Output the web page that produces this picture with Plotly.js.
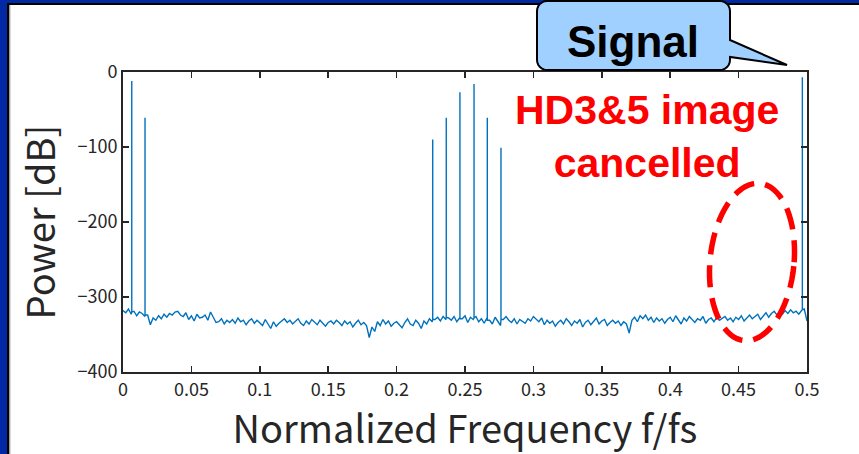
<!DOCTYPE html>
<html>
<head>
<meta charset="utf-8">
<script src="https://cdn.plot.ly/plotly-3.0.1.min.js"></script>
<style>
html,body{margin:0;padding:0;background:#fff;}
#chart{width:859px;height:454px;}
</style>
</head>
<body>
<div id="chart"></div>
<script>
// ---- data ----
// noise floor, sampled every 0.002 of normalized frequency from 0 to 0.5
const noiseStep = 0.002;
const noisePower = [
 -318,-321,-316,-323,-319,-325,-320,-322,-326,-324,
 -337,-328,-331,-325,-329,-323,-327,-322,-324,-320,
 -319,-324,-326,-321,-330,-325,-332,-323,-328,-327,
 -324,-331,-320,-327,-334,-333,-329,-336,-331,-334,
 -330,-335,-328,-333,-331,-337,-332,-329,-335,-331,
 -334,-338,-330,-336,-342,-333,-339,-335,-332,-329,
 -334,-331,-336,-333,-329,-335,-338,-332,-336,-330,
 -333,-337,-331,-335,-339,-334,-332,-336,-331,-334,
 -338,-332,-336,-333,-340,-335,-331,-337,-334,-338,
 -354,-340,-346,-333,-338,-330,-336,-332,-339,-335,
 -333,-337,-341,-334,-329,-336,-338,-331,-335,-342,
 -332,-336,-329,-333,-330,-327,-332,-326,-330,-328,
 -331,-326,-333,-328,-329,-325,-334,-327,-330,-326,
 -333,-329,-335,-328,-331,-336,-327,-332,-338,-330,
 -326,-331,-334,-329,-336,-330,-333,-335,-329,-332,
 -326,-330,-333,-328,-337,-331,-335,-332,-339,-334,
 -331,-336,-329,-333,-338,-332,-335,-330,-340,-334,
 -331,-337,-333,-328,-336,-332,-330,-338,-334,-331,
 -335,-332,-338,-333,-336,-348,-331,-327,-333,-325,
 -329,-324,-331,-327,-334,-328,-332,-329,-335,-330,
 -327,-333,-325,-331,-336,-328,-332,-326,-330,-334,
 -329,-331,-326,-335,-330,-328,-333,-327,-331,-329,
 -326,-331,-328,-333,-327,-330,-325,-332,-328,-324,
 -329,-326,-323,-330,-325,-321,-327,-322,-319,-324,
 -320,-323,-318,-322,-317,-321,-319,-323,-318,-316,
 -332
];
// spectral lines
const spikeFreq  = [0.0064, 0.0161, 0.2264, 0.2363, 0.2463, 0.2566, 0.2663, 0.2763, 0.4966];
const spikePower = [-12, -61, -90, -61, -27, -16, -61, -101, -7];
const spikeBase  = [-320, -324, -330, -327, -329, -328, -331, -330, -317];

const xTickVals  = [0, 0.05, 0.1, 0.15, 0.2, 0.25, 0.3, 0.35, 0.4, 0.45, 0.5];
const xTickText  = ['0','0.05','0.1','0.15','0.2','0.25','0.3','0.35','0.4','0.45','0.5'];
const yTickVals  = [0, -100, -200, -300, -400];

// ---- merge noise samples with spectral lines ----
const fx = [], fy = [];
let s = 0;
for (let i = 0; i < noisePower.length; i++) {
  const f = i * noiseStep;
  while (s < spikeFreq.length && spikeFreq[s] < f) {
    fx.push(spikeFreq[s], spikeFreq[s], spikeFreq[s]);
    fy.push(spikeBase[s], spikePower[s], spikeBase[s]);
    s++;
  }
  fx.push(f); fy.push(noisePower[i]);
}

// ---- layout helpers (pixel -> paper) ----
const W = 859, H = 454;
const M = {l: 123, r: 52, t: 72, b: 82};
const PW = W - M.l - M.r, PH = H - M.t - M.b;
const px = x => (x - M.l) / PW;
const py = y => (H - M.b - y) / PH;
function pathFrom(pts) {
  return pts.map((p, i) => (i ? 'L' : 'M') + px(p[0]).toFixed(5) + ',' + py(p[1]).toFixed(5)).join(' ') + ' Z';
}
function rectPx(x0, y0, x1, y1, color) {
  return {type: 'rect', xref: 'paper', yref: 'paper', x0: px(x0), x1: px(x1), y0: py(y1), y1: py(y0),
          fillcolor: color, line: {width: 0}, layer: 'above'};
}
// callout bubble
function bubble() {
  const L = 537, R = 730, T = 1, B = 70, r = 10;
  const pts = [];
  const arc = (cx, cy, a0, a1) => { for (let k = 0; k <= 6; k++) { const a = a0 + (a1 - a0) * k / 6; pts.push([cx + r * Math.cos(a), cy + r * Math.sin(a)]); } };
  arc(L + r, T + r, Math.PI, 1.5 * Math.PI);
  arc(R - r, T + r, 1.5 * Math.PI, 2 * Math.PI);
  pts.push([R, 40], [787, 65], [R, 57]);
  arc(R - r, B - r, 0, 0.5 * Math.PI);
  arc(L + r, B - r, 0.5 * Math.PI, Math.PI);
  return pathFrom(pts);
}
// tilted ellipse
function ellipse(cx, cy, rx, ry, phi) {
  const pts = [];
  for (let k = 0; k < 72; k++) {
    const t = 2 * Math.PI * k / 72;
    const u = rx * Math.cos(t), v = ry * Math.sin(t);
    pts.push([cx + u * Math.cos(phi) - v * Math.sin(phi), cy + u * Math.sin(phi) + v * Math.cos(phi)]);
  }
  return pathFrom(pts);
}

const axisColor = '#262626';
const tickFont = {family: 'Noto Sans CJK JP, DejaVu Sans, sans-serif', size: 18, color: axisColor};
const titleFont = {family: 'Noto Sans CJK JP, DejaVu Sans, sans-serif', size: 38, color: axisColor};

const trace = {
  x: fx, y: fy, type: 'scatter', mode: 'lines',
  line: {color: '#0072bd', width: 1.4}, hoverinfo: 'skip'
};

const layout = {
  width: W, height: H,
  margin: M,
  paper_bgcolor: '#ffffff', plot_bgcolor: '#ffffff',
  showlegend: false,
  xaxis: {
    range: [0, 0.5], tickvals: xTickVals, ticktext: xTickText,
    ticks: 'inside', ticklen: 6, tickwidth: 1.5, tickcolor: axisColor,
    showline: true, linecolor: axisColor, linewidth: 2, mirror: 'ticks',
    showgrid: false, zeroline: false, tickfont: tickFont,
    title: {text: 'Normalized Frequency f/fs', font: titleFont, standoff: 4}
  },
  yaxis: {
    range: [-400, 0], tickvals: yTickVals,
    ticks: 'inside', ticklen: 6, tickwidth: 1.5, tickcolor: axisColor,
    showline: true, linecolor: axisColor, linewidth: 2, mirror: 'ticks',
    showgrid: false, zeroline: false, tickfont: tickFont,
    title: {text: 'Power [dB]', font: titleFont, standoff: 10}
  },
  shapes: [
    rectPx(0, 0, 7, H, '#0029a3'),
    rectPx(0, 0, W, 3, '#0029a3'),
    rectPx(7, 3, 9.5, H, '#000000'),
    rectPx(7, 3, W, 5, '#000000'),
    rectPx(9.5, 5, 10.5, H, '#b8b8b8'),
    {type: 'path', xref: 'paper', yref: 'paper', path: bubble(), fillcolor: '#9fd0ff',
     line: {color: '#000000', width: 2}, layer: 'above'},
    {type: 'path', xref: 'paper', yref: 'paper', path: ellipse(752, 262, 42, 79, 0.1), fillcolor: 'rgba(0,0,0,0)',
     line: {color: '#ff0000', width: 5.5, dash: '22px,11px'}, layer: 'above'}
  ],
  annotations: [
    {xref: 'paper', yref: 'paper', x: px(633), y: py(42), text: '<b>Signal</b>', showarrow: false,
     xanchor: 'center', yanchor: 'middle',
     font: {family: 'Liberation Sans, Arial, sans-serif', size: 44, color: '#000000'}},
    {xref: 'paper', yref: 'paper', x: px(647), y: py(136), text: '<b>HD3&amp;5 image<br>cancelled</b>', showarrow: false,
     xanchor: 'center', yanchor: 'middle',
     font: {family: 'Liberation Sans, Arial, sans-serif', size: 41, color: '#ff0000'}}
  ]
};

Plotly.newPlot('chart', [trace], layout, {displayModeBar: false, staticPlot: true});
</script>
</body>
</html>
